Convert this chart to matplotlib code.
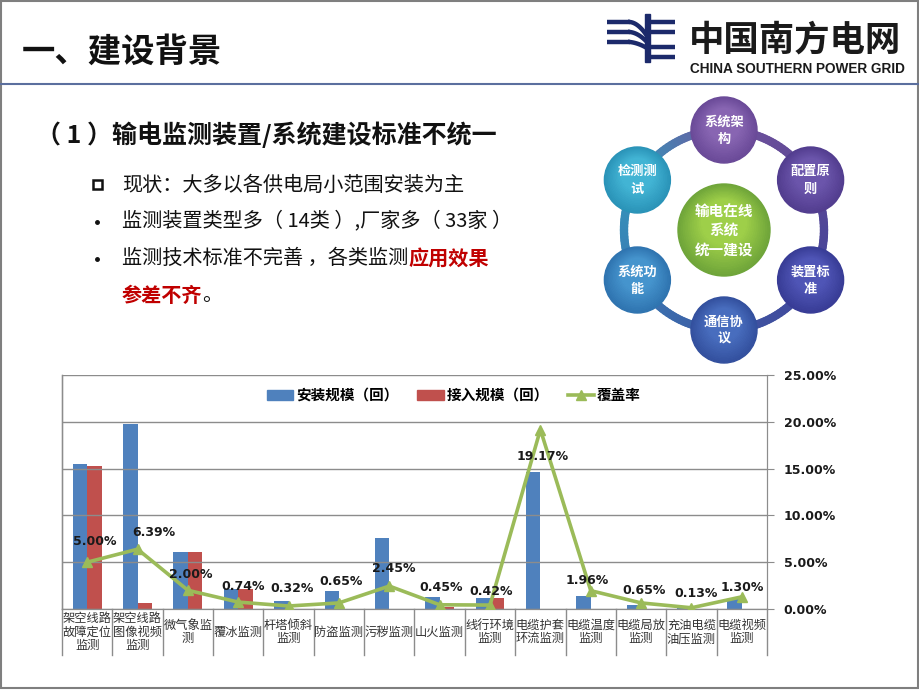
import numpy as np
import matplotlib
matplotlib.use("Agg")
import matplotlib.pyplot as plt
from matplotlib.patches import Rectangle, Circle, Patch
from matplotlib.lines import Line2D
from matplotlib.collections import LineCollection
from matplotlib.transforms import blended_transform_factory
from matplotlib.ticker import FuncFormatter
import matplotlib.colors as mcolors

plt.rcParams['font.family'] = ['Noto Sans CJK SC', 'DejaVu Sans']

# ─────────────────────────────────────────────────────────────────────────────
# Data
# ─────────────────────────────────────────────────────────────────────────────
categories = ["架空线路\n故障定位\n监测", "架空线路\n图像视频\n监测", "微气象监\n测", "覆冰监测",
              "杆塔倾斜\n监测", "防盗监测", "污秽监测", "山火监测", "线行环境\n监测",
              "电缆护套\n环流监测", "电缆温度\n监测", "电缆局放\n监测", "充油电缆\n油压监测",
              "电缆视频\n监测"]
install_scale = [155, 198, 61, 21, 9, 19, 76, 13, 12, 146, 14, 4, 1, 11]
access_scale = [153, 6, 61, 21, 0, 0, 0, 2, 12, 0, 0, 0, 0, 0]
coverage = [5.00, 6.39, 2.00, 0.74, 0.32, 0.65, 2.45, 0.45, 0.42, 19.17, 1.96, 0.65, 0.13, 1.30]
right_ticks = [0, 5, 10, 15, 20, 25]

series_names = ["安装规模（回）", "接入规模（回）", "覆盖率"]

ring_nodes = ["系统架\n构", "配置原\n则", "装置标\n准", "通信协\n议", "系统功\n能", "检测测\n试"]
ring_center = "输电在线\n系统\n统一建设"

bullets = ["现状：大多以各供电局小范围安装为主", "监测装置类型多（ 14类 ）,厂家多（ 33家 ）"]

BLUE, RED, GREEN = "#4f81bd", "#c0504d", "#9bbb59"

fig = plt.figure(figsize=(9.2, 6.9), dpi=100)

# slide background layer in pixel coordinates
bg = fig.add_axes([0, 0, 1, 1])
bg.set_xlim(0, 920)
bg.set_ylim(690, 0)
bg.axis("off")

bg.add_patch(Rectangle((1, 1), 917, 687, fill=False, ec="#7f7f7f", lw=1.5))
bg.plot([1, 918], [84, 84], color="#5b6f9e", lw=1.5)

bg.text(22, 52, "一、建设背景", fontsize=24, fontweight="bold", va="center", color="#111111")

# logo
NAVY = "#1c2a6b"
for yy in (22, 32, 42):
    bg.plot([607, 630], [yy, yy], color=NAVY, lw=3.2, solid_capstyle="butt")
    t = np.linspace(0, 1, 20)
    bg.plot(630 + 16 * t, yy + (52 - yy) * 0.35 * t ** 2 + 2 * t, color=NAVY, lw=3.2)
bg.add_patch(Rectangle((645, 14), 5, 48, color=NAVY))
for yy in (22, 32, 47, 57):
    bg.plot([650, 675], [yy, yy], color=NAVY, lw=3.2, solid_capstyle="butt")
bg.text(689, 40, "中国南方电网", fontsize=25.5, fontweight="bold", va="center", color="#1a1a1a")
bg.text(690, 69, "CHINA SOUTHERN POWER GRID", fontsize=9.8, fontweight="bold", va="center",
        color="#1a1a1a", family="Liberation Sans")

# subtitle and bullet text
bg.text(36, 135, "（ 1 ）输电监测装置/系统建设标准不统一", fontsize=18, fontweight="bold",
        va="center", color="#111111")
bg.add_patch(Rectangle((93, 180), 9, 9, fill=False, ec="#111111", lw=1.8))
bg.text(122, 185, bullets[0], fontsize=14.5, va="center", color="#111111")
bg.plot([97], [222], marker="o", ms=2.5, color="#111111")
bg.text(122, 221, bullets[1], fontsize=14.5, va="center", color="#111111")
bg.plot([97], [259], marker="o", ms=2.5, color="#111111")

renderer = fig.canvas.get_renderer()


def chain(x, y, pieces):
    for txt, col, wt in pieces:
        t = bg.text(x, y, txt, fontsize=14.5, va="center", color=col, fontweight=wt)
        bb = t.get_window_extent(renderer)
        x = x + bb.width


chain(122, 258, [("监测技术标准不完善 ，各类监测", "#111111", "normal"),
                 ("应用效果", "#c00000", "bold")])
chain(122, 296, [("参差不齐", "#c00000", "bold"), ("。", "#111111", "normal")])

# ring diagram
cx, cy, R = 724, 230, 100
node_angles = [90, 30, -30, -90, -150, 150]
node_light = ["#8a67b4", "#6d57ad", "#5157b8", "#4a6fc0", "#4796cf", "#44b6d6"]
node_dark = ["#6a4a98", "#523d8f", "#383c96", "#33509e", "#2f74b0", "#2a93b8"]

angs = np.radians(np.linspace(0, 360, 181))
segs, cols = [], []
ref = np.array([np.radians(a) % (2 * np.pi) for a in node_angles])
rgb_dark = [np.array(mcolors.to_rgb(c)) for c in node_dark]
for a0, a1 in zip(angs[:-1], angs[1:]):
    am = (a0 + a1) / 2
    d = np.abs((ref - am + np.pi) % (2 * np.pi) - np.pi)
    i, j = np.argsort(d)[:2]
    w = d[j] / (d[i] + d[j])
    c = rgb_dark[i] * w + rgb_dark[j] * (1 - w)
    segs.append([(cx + R * np.cos(a0), cy - R * np.sin(a0)),
                 (cx + R * np.cos(a1), cy - R * np.sin(a1))])
    cols.append(c * 0.95 + 0.05)
bg.add_collection(LineCollection(segs, colors=cols, lw=6, zorder=2, capstyle="round",
                                 antialiased=True))


def shaded_circle(x, y, r, light, dark, n=14):
    l = np.array(mcolors.to_rgb(light))
    d = np.array(mcolors.to_rgb(dark))
    for k in range(n):
        f = k / n
        c = d * (1 - f) + l * f
        bg.add_patch(Circle((x, y - r * 0.18 * f), r * (1 - 0.55 * f), color=c, zorder=3 + k * 0.01))


for lab, a, lc, dc in zip(ring_nodes, node_angles, node_light, node_dark):
    x = cx + R * np.cos(np.radians(a))
    y = cy - R * np.sin(np.radians(a))
    shaded_circle(x, y, 33, lc, dc)
    bg.text(x, y, lab, ha="center", va="center", color="white", fontsize=9.5,
            fontweight="bold", linespacing=1.3, zorder=5)
shaded_circle(cx, cy, 46, "#a2d24a", "#6fa53a")
bg.text(cx, cy, ring_center, ha="center", va="center", color="white", fontsize=10.5,
        fontweight="bold", linespacing=1.25, zorder=5)

# ─────────────────────────────────────────────────────────────────────────────
# Chart
# ─────────────────────────────────────────────────────────────────────────────
L, Rr, B, T = 62, 767, 609, 375
ax = fig.add_axes([L / 920, (690 - B) / 690, (Rr - L) / 920, (B - T) / 690])
x = np.arange(len(categories))
bw = 0.286
ax.bar(x - bw / 2, install_scale, bw, color=BLUE, zorder=2)
ax.bar(x + bw / 2, access_scale, bw, color=RED, zorder=2)
ax.set_xlim(-0.5, len(categories) - 0.5)
ax.set_ylim(0, 250)
ax.set_yticks([])
ax.set_xticks([])
ax.spines["top"].set_visible(False)
for s in ("left", "right", "bottom"):
    ax.spines[s].set_color("#8c8c8c")
ax.patch.set_alpha(0)

ax2 = ax.twinx()
ax2.set_ylim(0, 25)
ax2.set_yticks(right_ticks)
ax2.yaxis.set_major_formatter(FuncFormatter(lambda v, p: f"{v:.2f}%"))
for t in ax2.get_yticklabels():
    t.set_family("DejaVu Sans")
    t.set_fontweight("bold")
ax2.tick_params(axis="y", length=5, pad=7, labelsize=9, color="#8c8c8c", labelcolor="#1a1a1a")
ax2.grid(axis="y", color="#8c8c8c", lw=1, zorder=0)
ax2.set_axisbelow(True)
for s in ax2.spines.values():
    s.set_color("#8c8c8c")
ax2.spines["top"].set_visible(False)
ax2.plot(x, coverage, color=GREEN, lw=2.6, marker="^", ms=7, zorder=4)

dxs = [8, 16, 3, 5, 3, 2, 4, 1, 1, 2, -4, 3, 5, 0]
dys = [21, 17, 16, 16, 18, 21, 18, 17, 14, -27, 10, 12, 14, 9]
for xi, v, dx, dy in zip(x, coverage, dxs, dys):
    ax2.annotate(f"{v:.2f}%", (xi, v), xytext=(dx, dy), textcoords="offset pixels",
                 ha="center", va="center", fontsize=9, fontweight="bold",
                 family="DejaVu Sans", color="#1a1a1a", zorder=6)

# category table below the axis
tr = blended_transform_factory(ax.transData, ax.transAxes)
depth = (655 - B) / (B - T)
for b in np.arange(-0.5, len(categories), 1.0):
    ax.plot([b, b], [0, -depth], transform=tr, color="#8c8c8c", lw=1, clip_on=False)
ax.plot([-0.5, -0.5], [0, 1], transform=tr, color="#8c8c8c", lw=1, clip_on=False)
for xi, lab in zip(x, categories):
    ax.text(xi, -(632 - B) / (B - T), lab, transform=tr, ha="center", va="center",
            fontsize=8.8, color="#333333", linespacing=1.05)

handles = [Patch(color=BLUE), Patch(color=RED),
           Line2D([], [], color=GREEN, lw=2.6, marker="^", ms=7)]
ax2.legend(handles, series_names, loc="center", bbox_to_anchor=(0.556, 0.915), ncol=3,
           frameon=False, handlelength=1.8, columnspacing=1.3,
           handletextpad=0.2, prop={"weight": "bold", "size": 10.5})

fig.savefig("out.png", dpi=100)
